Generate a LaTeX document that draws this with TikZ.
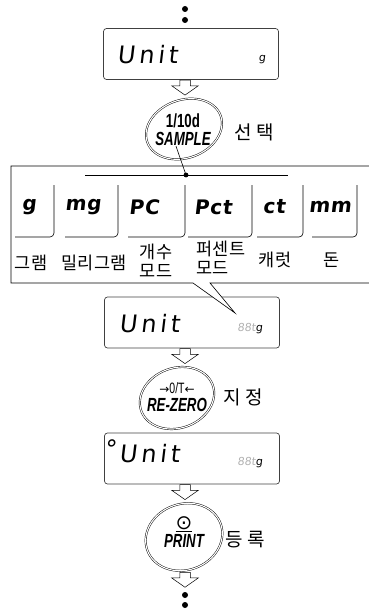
\documentclass[tikz,border=0pt]{standalone}
\usepackage{fontspec}
\usepackage{xcolor}
\usetikzlibrary{positioning,shapes.geometric,shapes.arrows,calc}
\newfontfamily\kfont{Noto Sans CJK KR}
\newfontfamily\segfont[FakeSlant=0.12]{DejaVu Sans}
\newfontfamily\segwide[FakeSlant=0.12,LetterSpace=16]{DejaVu Sans}
\newfontfamily\tilefont[FakeSlant=0.12,LetterSpace=4]{DejaVu Sans}
\newfontfamily\keyfont[FakeStretch=0.7]{Liberation Sans}
\newfontfamily\symfont{DejaVu Sans}

\begin{document}
\begin{tikzpicture}[x=1pt, y=-1pt,
  disp/.style={draw=black!75, line width=0.7pt, rounded corners=3pt,
    minimum width=175pt, minimum height=51pt, inner sep=0pt},
  seg/.style={font=\segwide\fontsize{24}{26}\selectfont, inner sep=0pt, anchor=west},
  segsm/.style={font=\segfont\fontsize{11}{12}\selectfont, inner sep=0pt},
  keytxt/.style={font=\keyfont\bfseries\itshape\fontsize{19}{20}\selectfont,
    align=center, inner sep=0pt},
  ring/.style={draw, ellipse, line width=0.45pt, double, double distance=1.1pt,
    rotate=20, inner sep=0pt},
  harrow/.style={single arrow, draw, fill=white, line width=0.5pt,
    shape border rotate=270, inner sep=5pt, minimum height=15pt,
    single arrow head extend=8pt, single arrow tip angle=110, anchor=tail},
  kor/.style={font=\kfont\fontsize{19}{21}\selectfont, inner sep=0pt},
  tlab/.style={font=\kfont\fontsize{17.5}{18.5}\selectfont, inner sep=0pt, align=center},
  tilelab/.style={font=\tilefont\bfseries\fontsize{20}{21}\selectfont, inner sep=0pt}
]
\useasboundingbox (0,0) rectangle (369,610);

% continuation dots
\foreach \y in {9,20,595,605} \fill (185,\y) circle (3pt);

% first display
\node[disp] (d1) at (191,54) {};
\node[seg] (u1) at (117,55) {Unit};
\node[segsm] (g1) at (262,60) {g};
\node[harrow] (a1) at (d1.south -| 185,0) {};

% SAMPLE key
\node[keytxt] (k1) at (183,130) {{\upshape 1/10d}\\[-2pt]SAMPLE};
\node[ring, minimum width=78pt, minimum height=58pt] (r1) at (184,129) {};
\node[kor] (l1) at (254,132) {선 택};

% second display
\node[disp] (d2) at (192,322.5) {};
\node[seg] (u2) at (119,324) {Unit};
\node[segsm] (g2) at (250,329) {\textcolor{black!30}{88t}g};
\node[harrow] (a2) at (d2.south -| 185,0) {};

% callout with the units
\draw[line width=0.6pt, fill=white] (369,166) -- (11,166) -- (11,283) -- (193,283)
  -- (235,313) -- (210,283) -- (369,283);
\draw[line width=0.6pt] (85,175) -- (288,175);
\coordinate (sel) at (186,175);
\fill (sel) circle (2.4pt);
\draw[line width=0.6pt] ([xshift=-7pt]k1.south) -- (sel);

\foreach \xl/\xr/\xc/\txt [count=\i] in {15/54/29/g, 65/118/83/mg, 128/185/144/PC,
    188/252/213/Pct, 257/303/274/ct, 312/357/330/mm}{
  \node[tilelab] (t\i) at (\xc,207) {\txt};
  \draw[line width=0.6pt, rounded corners=4pt] (\xl,237) -- (\xr,237) -- (\xr,185);
}
\node[tlab] (n1) at (31,263) {그램};
\node[tlab] (n2) at (94,263) {밀리그램};
\node[tlab] (n3) at (156,261) {개수\\모드};
\node[tlab, align=left] (n4) at (221,258) {퍼센트\\모드};
\node[tlab] (n5) at (275,260) {캐럿};
\node[tlab] (n6) at (332,260) {돈};

% RE-ZERO key
\node[keytxt] (k2) at (177,397) {{\upshape\mdseries\fontsize{15}{15}\selectfont
  {\symfont\fontsize{12}{12}\selectfont →}0/T{\symfont\fontsize{12}{12}\selectfont ←}}\\[-2pt]RE-ZERO};
\node[ring, minimum width=76pt, minimum height=60pt] (r2) at (177,398) {};
\node[kor] (l2) at (243,397) {지 정};

% third display
\node[disp] (d3) at (192,458.5) {};
\node[seg] (o3) at (104,449) {°};
\node[seg] (u3) at (119,454) {Unit};
\node[segsm] (g3) at (250,463) {\textcolor{black!30}{88t}g};
\node[harrow] (a3) at (d3.south -| 185,0) {};

% PRINT key
\node[keytxt] (k3) at (184,532) {{\symfont\upshape\mdseries\fontsize{20}{20}\selectfont\underline{⊙}}\\[-2pt]PRINT};
\node[ring, minimum width=78pt, minimum height=66pt] (r3) at (184,537) {};
\node[kor] (l3) at (245,540) {등 록};
\node[harrow] (a4) at (185,572) {};
\end{tikzpicture}
\end{document}
